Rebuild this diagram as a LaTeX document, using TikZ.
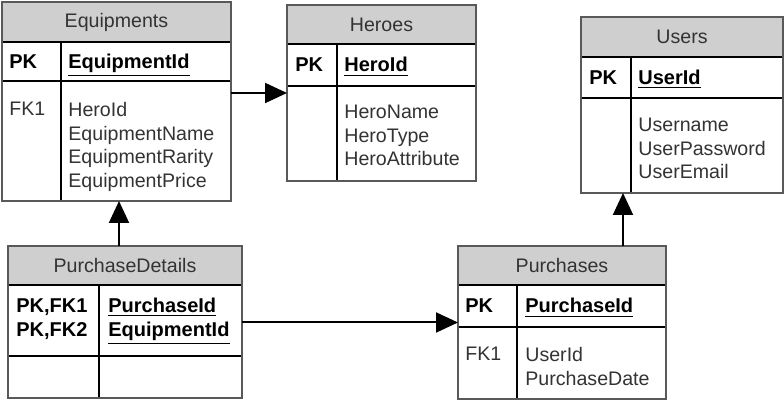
\documentclass[tikz,border=0pt]{standalone}
\usepackage{fontspec}
\setmainfont{Liberation Sans}
\usetikzlibrary{calc,positioning,arrows.meta}
\tikzset{
	tblhead/.style={draw=black!65, fill=black!19, line width=0.9pt, inner sep=0pt, outer sep=0pt, anchor=north west, text=black!80},
	tblrow/.style={draw=black, line width=0.7pt, inner sep=0pt, outer sep=0pt},
	tblframe/.style={draw=black!65, line width=0.9pt},
	keytext/.style={inner sep=0pt, anchor=base west, font=\bfseries},
	fldtext/.style={inner sep=0pt, anchor=north west, align=left, text=black!80},
	fkarrow/.style={line width=1pt, -{Triangle[length=11pt, width=10pt]}}
}

\begin{document}
\begin{tikzpicture}[x=0.5pt, y=-0.5pt, font=\fontsize{9.8}{11.75}\selectfont]
			%%%%% START %%%%%
			\useasboundingbox (0,0) rectangle (784,400);
			
			% Equipments
			\node[tblhead, minimum width=229*.5pt, minimum height=40*.5pt] (eqHead) at (2,2) {Equipments};
			\node[tblrow, minimum width=229*.5pt, minimum height=39*.5pt, below=0pt of eqHead] (eqKey) {};
			\node[tblrow, minimum width=229*.5pt, minimum height=120*.5pt, below=0pt of eqKey] (eqBody) {};
			\draw[tblrow] ($(eqKey.north west)+(59,0)$) -- ($(eqBody.south west)+(59,0)$);
			\draw[tblframe] (eqHead.north west) rectangle (eqBody.south east);
			\node[keytext] (eqPK) at ($(eqKey.west)+(7,7)$) {PK};
			\node[keytext] (eqPKf) at ($(eqKey.west)+(66,7)$) {\underline{EquipmentId}};
			\node[fldtext] (eqFK) at ($(eqBody.north west)+(7,21)$) {FK1};
			\node[fldtext] (eqFld) at ($(eqBody.north west)+(66,21)$) {HeroId\\EquipmentName\\EquipmentRarity\\EquipmentPrice};
			
			% Heroes
			\node[tblhead, minimum width=189*.5pt, minimum height=39*.5pt] (hrHead) at (287,5) {Heroes};
			\node[tblrow, minimum width=189*.5pt, minimum height=42*.5pt, below=0pt of hrHead] (hrKey) {};
			\node[tblrow, minimum width=189*.5pt, minimum height=95*.5pt, below=0pt of hrKey] (hrBody) {};
			\draw[tblrow] ($(hrKey.north west)+(50,0)$) -- ($(hrBody.south west)+(50,0)$);
			\draw[tblframe] (hrHead.north west) rectangle (hrBody.south east);
			\node[keytext] (hrPK) at ($(hrKey.west)+(8,7)$) {PK};
			\node[keytext] (hrPKf) at ($(hrKey.west)+(57,7)$) {\underline{HeroId}};
			\node[fldtext] (hrFld) at ($(hrBody.north west)+(57,19)$) {HeroName\\HeroType\\HeroAttribute};
			
			% Users
			\node[tblhead, minimum width=202*.5pt, minimum height=40*.5pt] (usHead) at (581,17) {Users};
			\node[tblrow, minimum width=202*.5pt, minimum height=41*.5pt, below=0pt of usHead] (usKey) {};
			\node[tblrow, minimum width=202*.5pt, minimum height=95*.5pt, below=0pt of usKey] (usBody) {};
			\draw[tblrow] ($(usKey.north west)+(50,0)$) -- ($(usBody.south west)+(50,0)$);
			\draw[tblframe] (usHead.north west) rectangle (usBody.south east);
			\node[keytext] (usPK) at ($(usKey.west)+(8,7)$) {PK};
			\node[keytext] (usPKf) at ($(usKey.west)+(57,7)$) {\underline{UserId}};
			\node[fldtext] (usFld) at ($(usBody.north west)+(57,20)$) {Username\\UserPassword\\UserEmail};
			
			% PurchaseDetails
			\node[tblhead, minimum width=234*.5pt, minimum height=39*.5pt] (pdHead) at (8,246) {PurchaseDetails};
			\node[tblrow, minimum width=234*.5pt, minimum height=71*.5pt, below=0pt of pdHead] (pdKey) {};
			\node[tblrow, minimum width=234*.5pt, minimum height=42*.5pt, below=0pt of pdKey] (pdBody) {};
			\draw[tblrow] ($(pdKey.north west)+(91,0)$) -- ($(pdBody.south west)+(91,0)$);
			\draw[tblframe] (pdHead.north west) rectangle (pdBody.south east);
			\node[fldtext, text=black, font=\bfseries] (pdPK) at ($(pdKey.north west)+(8,13)$) {PK,FK1\\PK,FK2};
			\node[fldtext, text=black, font=\bfseries] (pdPKf) at ($(pdKey.north west)+(100,13)$) {\underline{PurchaseId}\\\underline{EquipmentId}};
			
			% Purchases
			\node[tblhead, minimum width=208*.5pt, minimum height=39*.5pt] (puHead) at (458,246) {Purchases};
			\node[tblrow, minimum width=208*.5pt, minimum height=42*.5pt, below=0pt of puHead] (puKey) {};
			\node[tblrow, minimum width=208*.5pt, minimum height=72*.5pt, below=0pt of puKey] (puBody) {};
			\draw[tblrow] ($(puKey.north west)+(59,0)$) -- ($(puBody.south west)+(59,0)$);
			\draw[tblframe] (puHead.north west) rectangle (puBody.south east);
			\node[keytext] (puPK) at ($(puKey.west)+(7,7)$) {PK};
			\node[keytext] (puPKf) at ($(puKey.west)+(67,7)$) {\underline{PurchaseId}};
			\node[fldtext] (puFK) at ($(puBody.north west)+(7,20)$) {FK1};
			\node[fldtext] (puFld) at ($(puBody.north west)+(67,20)$) {UserId\\PurchaseDate};
			
			% relations
			\draw[fkarrow] ($(eqBody.north east)+(0,12)$) coordinate (eqOut) -- (eqOut -| hrBody.west);
			\draw[fkarrow] ($(pdHead.north west)+(111,0)$) coordinate (pdOut) -- (pdOut |- eqBody.south);
			\draw[fkarrow] ($(pdKey.east)+(0,2)$) coordinate (pdOut2) -- (pdOut2 -| puKey.west);
			\draw[fkarrow] ($(puHead.north west)+(165,0)$) coordinate (puOut) -- (puOut |- usBody.south);
			
			%%%%% END %%%%%
\end{tikzpicture}
\end{document}
